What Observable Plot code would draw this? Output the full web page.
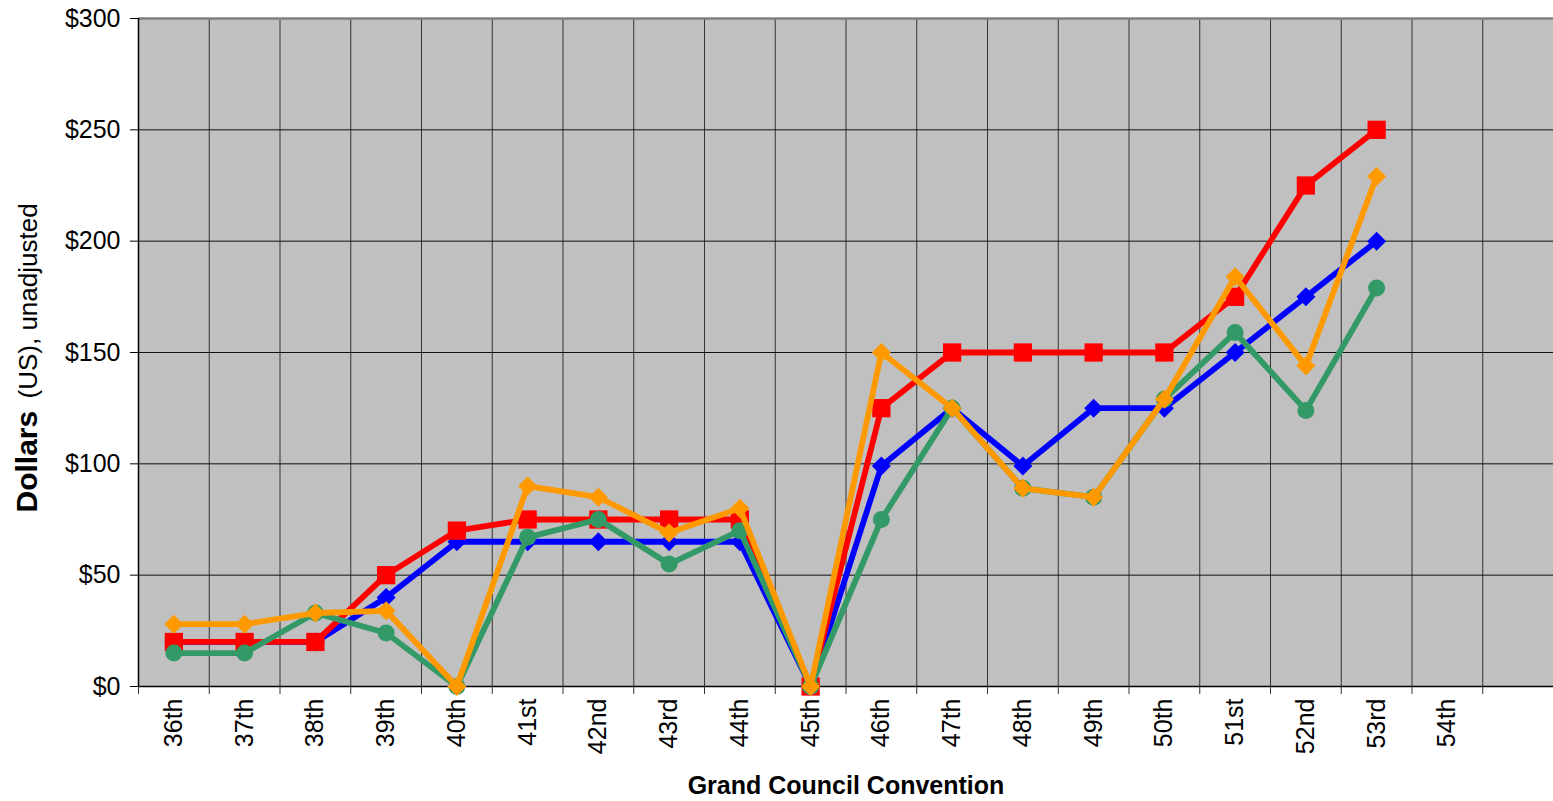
<!DOCTYPE html>
<html>
<head>
<meta charset="utf-8">
<script src="https://cdn.jsdelivr.net/npm/d3@7"></script>
<script src="https://cdn.jsdelivr.net/npm/@observablehq/plot@0.6"></script>
<style>
  body { margin: 0; background: #fff; }
  svg { display: block; }
</style>
</head>
<body>
<div id="chart"></div>
<script>
// ---- Data ----
const categories = ["36th","37th","38th","39th","40th","41st","42nd","43rd","44th","45th",
                    "46th","47th","48th","49th","50th","51st","52nd","53rd","54th",""];
const blueValues   = [20, 20, 20, 40, 65, 65, 65, 65, 65, 0,  99, 125,  99, 125, 125, 150, 175, 200];
const redValues    = [20, 20, 20, 50, 70, 75, 75, 75, 75, 0, 125, 150, 150, 150, 150, 175, 225, 250];
const greenValues  = [15, 15, 33, 24,  0, 67, 75, 55, 70, 0,  75, 125,  89,  85, 129, 159, 124, 179];
const orangeValues = [28, 28, 33, 34,  0, 90, 85, 69, 80, 0, 150, 125,  89,  85, 129, 184, 144, 229];
const yTicks = [0, 50, 100, 150, 200, 250, 300];
const xTitle = "Grand Council Convention";
const yTitleBold = "Dollars";
const yTitleRest = "(US), unadjusted";

// ---- Build tables ----
const rows = (arr) => arr.map((v, i) => ({i, v}));
const idx = d3.range(categories.length).filter(i => categories[i] !== "");
const bounds = d3.range(categories.length).map(i => i - 0.5);

const seriesStyles = [
  {values: blueValues,   color: "#0000ff", symbol: "square", rotate: 45, r: 7.6},
  {values: redValues,    color: "#ff0000", symbol: "square", rotate: 0,  r: 10.3},
  {values: greenValues,  color: "#339966", symbol: "circle", rotate: 0,  r: 8.5},
  {values: orangeValues, color: "#ff9900", symbol: "square", rotate: 45, r: 7.6}
];

const font = "'Liberation Sans', Arial, Helvetica, sans-serif";

const seriesMarks = seriesStyles.flatMap(s => [
  Plot.line(rows(s.values), {x: "i", y: "v", stroke: s.color, strokeWidth: 5.8, strokeLinejoin: "round"}),
  Plot.dot(rows(s.values), {x: "i", y: "v", symbol: s.symbol, rotate: s.rotate, r: s.r, fill: s.color, stroke: "none"})
]);

const chart = Plot.plot({
  width: 1553,
  height: 801,
  marginLeft: 138,
  marginRight: 0,
  marginTop: 18,
  marginBottom: 115,
  x: {type: "linear", domain: [-0.5, categories.length - 0.5]},
  y: {type: "linear", domain: [0, 300]},
  style: {fontFamily: font, fontSize: "25px", color: "#000", background: "#fff", overflow: "visible"},
  marks: [
    Plot.frame({fill: "#c0c0c0", stroke: null}),
    Plot.ruleX(bounds.slice(1), {stroke: "#333", strokeWidth: 1}),
    Plot.ruleY(yTicks.slice(1, -1), {stroke: "#111", strokeWidth: 1}),
    Plot.ruleY([yTicks[yTicks.length - 1]], {stroke: "#808080", strokeWidth: 2.5}),
    Plot.ruleX([bounds[0]], {stroke: "#000", strokeWidth: 1.5}),
    Plot.ruleY([0], {stroke: "#000", strokeWidth: 1.5}),
    Plot.axisY(yTicks, {tickFormat: d => `$${d}`, tickSize: 8, tickPadding: 10, fontSize: 25, label: null, stroke: "#000"}),
    Plot.axisX(bounds, {tickSize: 8, tickFormat: () => "", label: null, stroke: "#333"}),
    Plot.axisX(idx, {tickFormat: i => categories[i], tickSize: 0, tickPadding: 12, tickRotate: -90, fontSize: 25, label: null}),
    ...seriesMarks,
    Plot.text([xTitle], {text: d => d, frameAnchor: "bottom", lineAnchor: "bottom", dy: 107, fontWeight: "bold", fontSize: 25}),
    Plot.text([yTitleBold], {text: d => d, frameAnchor: "left", rotate: -90, textAnchor: "start", lineAnchor: "bottom", dx: -102, dy: 160, fontWeight: "bold", fontSize: 30}),
    Plot.text([yTitleRest], {text: d => d, frameAnchor: "left", rotate: -90, textAnchor: "start", lineAnchor: "bottom", dx: -102, dy: 46, fontSize: 26})
  ]
});

document.getElementById("chart").appendChild(chart);
</script>
</body>
</html>
